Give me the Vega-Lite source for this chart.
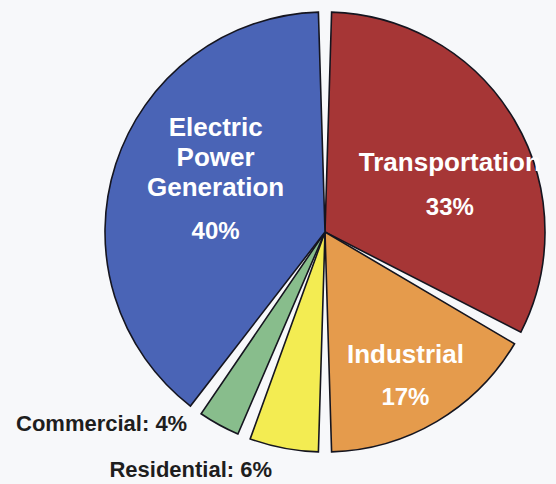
{
  "$schema": "https://vega.github.io/schema/vega-lite/v6.json",
  "autosize": {"type": "none"},
  "width": 464,
  "height": 464,
  "padding": {"left": 93, "right": 0, "top": 0, "bottom": 20},
  "background": "#f7f8fa",
  "config": {"view": {"stroke": null}},
  "data": {
    "values": [
      {"sector": "Transportation", "share": 33, "rank": 1, "label": "Transportation", "pct": "33%"},
      {"sector": "Industrial", "share": 17, "rank": 2, "label": "Industrial", "pct": "17%"},
      {"sector": "Residential", "share": 6, "rank": 3, "label": "Residential: 6%", "pct": "6%"},
      {"sector": "Commercial", "share": 4, "rank": 4, "label": "Commercial: 4%", "pct": "4%"},
      {"sector": "Electric Power Generation", "share": 40, "rank": 5, "label": "Electric\nPower\nGeneration", "pct": "40%"}
    ]
  },
  "transform": [
    {"stack": "share", "sort": [{"field": "rank", "order": "ascending"}], "groupby": [], "as": ["t0", "t1"]},
    {"calculate": "(datum.t0 + datum.t1) / 2", "as": "tmid"}
  ],
  "layer": [
    {
      "mark": {"type": "arc", "radius": 220, "padAngle": 0.06, "stroke": "#15151f", "strokeWidth": 1.6},
      "encoding": {
        "theta": {"field": "t0", "type": "quantitative", "scale": {"domain": [0, 100]}},
        "theta2": {"field": "t1"},
        "color": {
          "field": "sector",
          "type": "nominal",
          "legend": null,
          "scale": {
            "domain": ["Transportation", "Industrial", "Residential", "Commercial", "Electric Power Generation"],
            "range": ["#a63636", "#e59b4c", "#f3ec52", "#88bd8c", "#4a64b6"]
          }
        }
      }
    },
    {
      "transform": [{"filter": "datum.rank == 5"}],
      "mark": {"type": "text", "radius": 115, "dy": -68, "font": "Liberation Sans", "fontWeight": "bold", "fontSize": 26, "lineHeight": 30, "color": "white", "lineBreak": "\n"},
      "encoding": {"theta": {"field": "tmid", "type": "quantitative", "scale": {"domain": [0, 100]}}, "text": {"field": "label"}}
    },
    {
      "transform": [{"filter": "datum.rank == 5"}],
      "mark": {"type": "text", "radius": 115, "dy": 36, "font": "Liberation Sans", "fontWeight": "bold", "fontSize": 24, "color": "white"},
      "encoding": {"theta": {"field": "tmid", "type": "quantitative", "scale": {"domain": [0, 100]}}, "text": {"field": "pct"}}
    },
    {
      "transform": [{"filter": "datum.rank == 1"}],
      "mark": {"type": "text", "radius": 145, "dy": 5, "font": "Liberation Sans", "fontWeight": "bold", "fontSize": 26, "color": "white"},
      "encoding": {"theta": {"field": "tmid", "type": "quantitative", "scale": {"domain": [0, 100]}}, "text": {"field": "label"}}
    },
    {
      "transform": [{"filter": "datum.rank == 1"}],
      "mark": {"type": "text", "radius": 145, "dy": 50, "font": "Liberation Sans", "fontWeight": "bold", "fontSize": 24, "color": "white"},
      "encoding": {"theta": {"field": "tmid", "type": "quantitative", "scale": {"domain": [0, 100]}}, "text": {"field": "pct"}}
    },
    {
      "transform": [{"filter": "datum.rank == 2"}],
      "mark": {"type": "text", "radius": 158, "dy": -13, "font": "Liberation Sans", "fontWeight": "bold", "fontSize": 26, "color": "white"},
      "encoding": {"theta": {"field": "tmid", "type": "quantitative", "scale": {"domain": [0, 100]}}, "text": {"field": "label"}}
    },
    {
      "transform": [{"filter": "datum.rank == 2"}],
      "mark": {"type": "text", "radius": 158, "dy": 30, "font": "Liberation Sans", "fontWeight": "bold", "fontSize": 24, "color": "white"},
      "encoding": {"theta": {"field": "tmid", "type": "quantitative", "scale": {"domain": [0, 100]}}, "text": {"field": "pct"}}
    },
    {
      "transform": [{"filter": "datum.rank == 4"}],
      "mark": {"type": "text", "radius": 230, "align": "right", "dx": -27, "dy": -10, "font": "Liberation Sans", "fontWeight": "bold", "fontSize": 22, "color": "#1e1e1e"},
      "encoding": {"theta": {"field": "tmid", "type": "quantitative", "scale": {"domain": [0, 100]}}, "text": {"field": "label"}}
    },
    {
      "transform": [{"filter": "datum.rank == 3"}],
      "mark": {"type": "text", "radius": 240, "align": "right", "dx": -8, "dy": 2, "font": "Liberation Sans", "fontWeight": "bold", "fontSize": 22, "color": "#1e1e1e"},
      "encoding": {"theta": {"field": "tmid", "type": "quantitative", "scale": {"domain": [0, 100]}}, "text": {"field": "label"}}
    }
  ]
}
